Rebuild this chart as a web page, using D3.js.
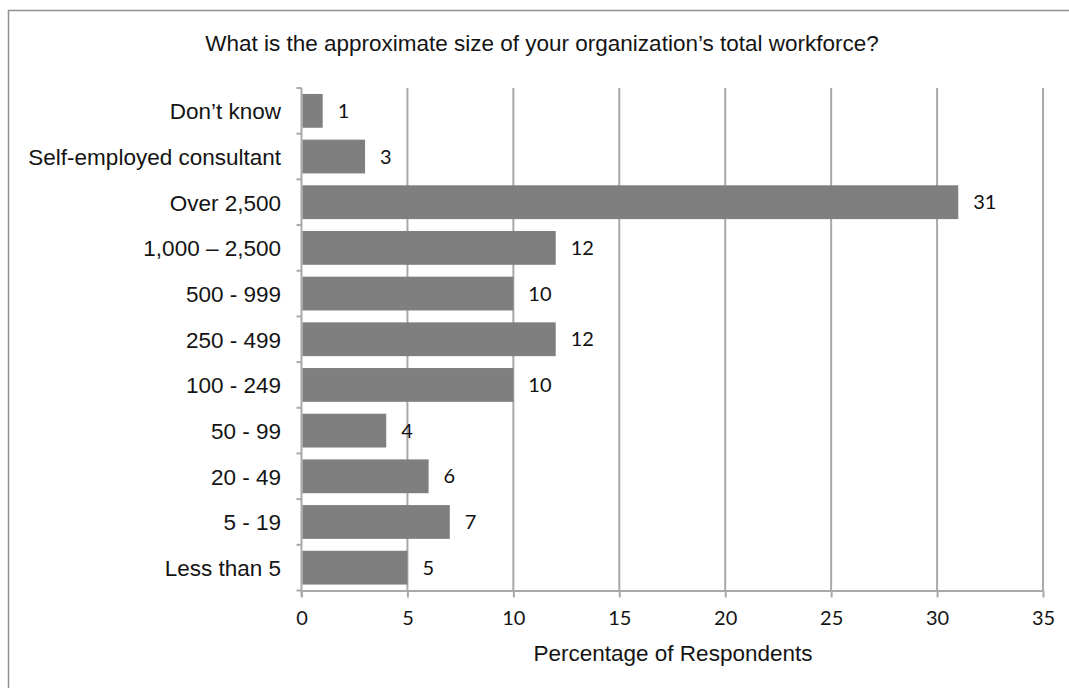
<!DOCTYPE html>
<html>
<head>
<meta charset="utf-8">
<script src="https://cdn.jsdelivr.net/npm/d3@7"></script>
<style>
  html, body { margin: 0; padding: 0; background: #fff; }
  svg { display: block; }
</style>
</head>
<body>
<svg id="chart" width="1069" height="688"></svg>
<script>
// Workforce size categories, top to bottom
const categories = [
  "Don’t know",
  "Self-employed consultant",
  "Over 2,500",
  "1,000 – 2,500",
  "500 - 999",
  "250 - 499",
  "100 - 249",
  "50 - 99",
  "20 - 49",
  "5 - 19",
  "Less than 5"
];
// Percentage of respondents per category
const values = [1, 3, 31, 12, 10, 12, 10, 4, 6, 7, 5];
// Horizontal axis ticks
const xTicks = [0, 5, 10, 15, 20, 25, 30, 35];

const titleText = "What is the approximate size of your organization’s total workforce?";
const xTitle = "Percentage of Respondents";

const svg = d3.select("#chart");
const W = 1069, H = 688;
const plot = { left: 301.5, right: 1043, top: 88, bottom: 590.5 };

const arial = "'Liberation Sans', Arial, sans-serif";
const numFont = "Lato, 'Open Sans', sans-serif";
const textColor = "#141414";
const gridColor = "#a9a9a9";
const barColor = "#7f7f7f";

// Outer frame (top and left edges visible)
svg.append("path")
  .attr("d", `M8.5,${H} V10.5 H${W}`)
  .attr("fill", "none")
  .attr("stroke", "#8f8f8f")
  .attr("stroke-width", 1.5);

const x = d3.scaleLinear().domain([0, 35]).range([plot.left, plot.right]);
const y = d3.scaleBand()
  .domain(categories)
  .range([plot.top, plot.bottom])
  .paddingInner(0.26)
  .paddingOuter(0.13);

// Title
svg.append("text")
  .attr("x", 542)
  .attr("y", 51)
  .attr("text-anchor", "middle")
  .attr("font-family", arial)
  .attr("font-size", 22.5)
  .attr("fill", textColor)
  .text(titleText);

// Vertical gridlines
svg.append("g")
  .selectAll("line")
  .data(xTicks.filter(t => t > 0))
  .join("line")
  .attr("x1", d => x(d)).attr("x2", d => x(d))
  .attr("y1", plot.top).attr("y2", plot.bottom)
  .attr("stroke", gridColor)
  .attr("stroke-width", 2);

// Bottom axis
const xAxis = d3.axisBottom(x)
  .tickValues(xTicks)
  .tickSize(7)
  .tickSizeOuter(0)
  .tickPadding(13)
  .tickFormat(d3.format("d"));

const gx = svg.append("g")
  .attr("transform", `translate(0,${plot.bottom})`)
  .call(xAxis);
gx.select(".domain").attr("stroke", gridColor).attr("stroke-width", 2);
gx.selectAll(".tick line").attr("stroke", gridColor).attr("stroke-width", 2);
gx.selectAll(".tick text")
  .attr("font-family", numFont)
  .attr("font-size", 20)
  .attr("fill", textColor);

// Left axis with category boundary ticks
const gy = svg.append("g");
gy.append("line")
  .attr("x1", plot.left).attr("x2", plot.left)
  .attr("y1", plot.top).attr("y2", plot.bottom + 6)
  .attr("stroke", gridColor)
  .attr("stroke-width", 2);
const step = y.step();
const bounds = d3.range(categories.length + 1).map(i => plot.top + i * step);
gy.selectAll("line.bound")
  .data(bounds)
  .join("line")
  .attr("class", "bound")
  .attr("x1", plot.left - 5).attr("x2", plot.left)
  .attr("y1", d => d).attr("y2", d => d)
  .attr("stroke", gridColor)
  .attr("stroke-width", 2);

// Category labels
svg.append("g")
  .selectAll("text")
  .data(categories)
  .join("text")
  .attr("x", 281)
  .attr("y", d => y(d) + y.bandwidth() / 2)
  .attr("dy", "0.37em")
  .attr("text-anchor", "end")
  .attr("font-family", arial)
  .attr("font-size", 22.5)
  .attr("fill", textColor)
  .text(d => d);

// Bars
svg.append("g")
  .selectAll("rect")
  .data(categories)
  .join("rect")
  .attr("x", x(0) + 1)
  .attr("y", d => y(d))
  .attr("width", (d, i) => x(values[i]) - x(0) - 1)
  .attr("height", y.bandwidth())
  .attr("fill", barColor);

// Value labels
svg.append("g")
  .selectAll("text")
  .data(categories)
  .join("text")
  .attr("x", (d, i) => x(values[i]) + 15)
  .attr("y", d => y(d) + y.bandwidth() / 2)
  .attr("dy", "0.36em")
  .attr("font-family", numFont)
  .attr("font-size", 20)
  .attr("fill", "#111")
  .text((d, i) => values[i]);

// X axis title
svg.append("text")
  .attr("x", 673)
  .attr("y", 661)
  .attr("text-anchor", "middle")
  .attr("font-family", arial)
  .attr("font-size", 22.5)
  .attr("fill", textColor)
  .text(xTitle);
</script>
</body>
</html>
